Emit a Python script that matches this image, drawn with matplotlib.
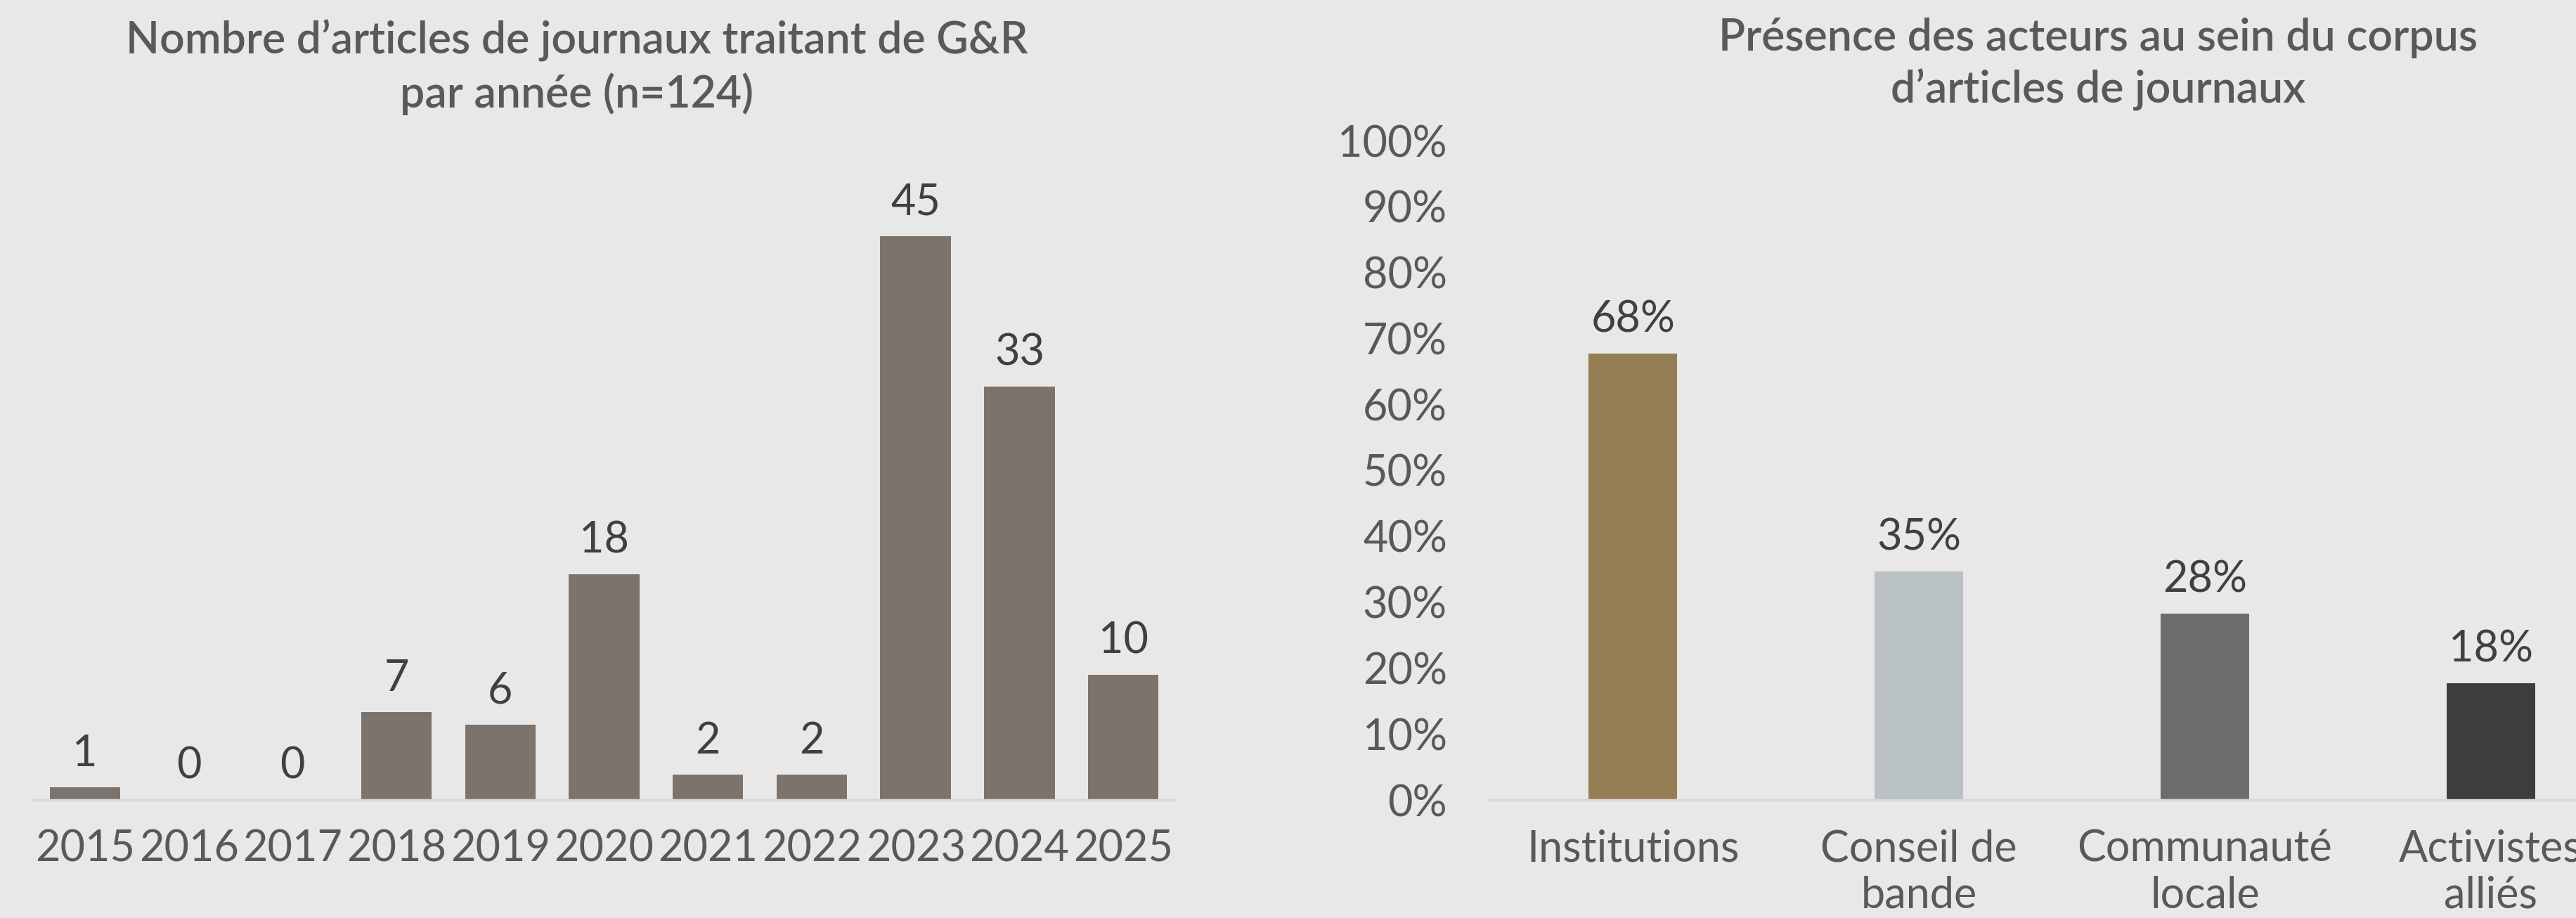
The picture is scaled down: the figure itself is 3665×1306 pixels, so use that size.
import matplotlib
matplotlib.use("Agg")
import matplotlib.pyplot as plt
from matplotlib.ticker import PercentFormatter

plt.rcParams['font.family'] = ['Lato', 'DejaVu Sans']

# left chart: articles per year
years = ["2015", "2016", "2017", "2018", "2019", "2020", "2021", "2022", "2023", "2024", "2025"]
articles = [1, 0, 0, 7, 6, 18, 2, 2, 45, 33, 10]

# right chart: share of articles citing each actor (n=124)
acteurs = ["Institutions", "Conseil de\nbande", "Communauté\nlocale", "Activistes\nalliés"]
presence = [84 / 124, 43 / 124, 35 / 124, 22 / 124]

bg = "#E8E8E8"
txt = "#595959"
lbl = "#404040"
bar_left = "#7D736D"
bar_right = ["#957D54", "#B9C1C3", "#6D6D6D", "#3D3D3D"]

W, H = 3665, 1306
fig = plt.figure(figsize=(W / 100, H / 100), dpi=100, facecolor=bg)

ax1 = fig.add_axes([47 / W, 1 - 1138 / H, 1625 / W, 938 / H], facecolor=bg)
ax2 = fig.add_axes([2120 / W, 1 - 1138 / H, 1627 / W, 938 / H], facecolor=bg)

# ---- left
x1 = range(len(years))
bars = ax1.bar(x1, articles, width=0.68, color=bar_left)
ax1.set_xlim(-0.5, len(years) - 0.5)
ax1.set_ylim(0, 52.6)
ax1.set_xticks(list(x1))
ax1.set_xticklabels(years, fontsize=44, color=txt)
ax1.set_yticks([])
ax1.tick_params(axis="x", length=0, pad=30)
for b, v in zip(bars, articles):
    ax1.annotate(str(v), (b.get_x() + b.get_width() / 2, v), xytext=(0, 14),
                 textcoords="offset points", ha="center", va="bottom",
                 fontsize=44, color=lbl)

# ---- right
x2 = range(len(acteurs))
bars2 = ax2.bar(x2, presence, width=0.31, color=bar_right)
ax2.set_xlim(-0.5, len(acteurs) - 0.5)
ax2.set_ylim(0, 1)
ax2.set_yticks([i / 10 for i in range(11)])
ax2.yaxis.set_major_formatter(PercentFormatter(1.0, decimals=0))
ax2.set_xticks(list(x2))
ax2.set_xticklabels(acteurs, fontsize=44, color=txt, linespacing=1.2)
ax2.tick_params(axis="x", length=0, pad=30)
ax2.tick_params(axis="y", length=0, pad=44, labelsize=44, labelcolor=txt)
for b, v in zip(bars2, presence):
    ax2.annotate(f"{v:.0%}", (b.get_x() + b.get_width() / 2, v), xytext=(0, 14),
                 textcoords="offset points", ha="center", va="bottom",
                 fontsize=44, color=lbl)

for ax in (ax1, ax2):
    for s in ("top", "left", "right"):
        ax.spines[s].set_visible(False)
    ax.spines["bottom"].set_color("#D6D6D6")
    ax.spines["bottom"].set_linewidth(2.5)

# titles: y is the baseline of the second line
fig.text(821 / W, 1 - 153 / H, "Nombre d\u2019articles de journaux traitant de G&R\npar année (n=124)",
         ha="center", va="baseline", fontsize=45, color=txt, weight="semibold", linespacing=1.3)
fig.text(2985 / W, 1 - 147 / H, "Présence des acteurs au sein du corpus\nd\u2019articles de journaux",
         ha="center", va="baseline", fontsize=45, color=txt, weight="semibold", linespacing=1.3)

fig.savefig("out.png", dpi=100, facecolor=bg)
